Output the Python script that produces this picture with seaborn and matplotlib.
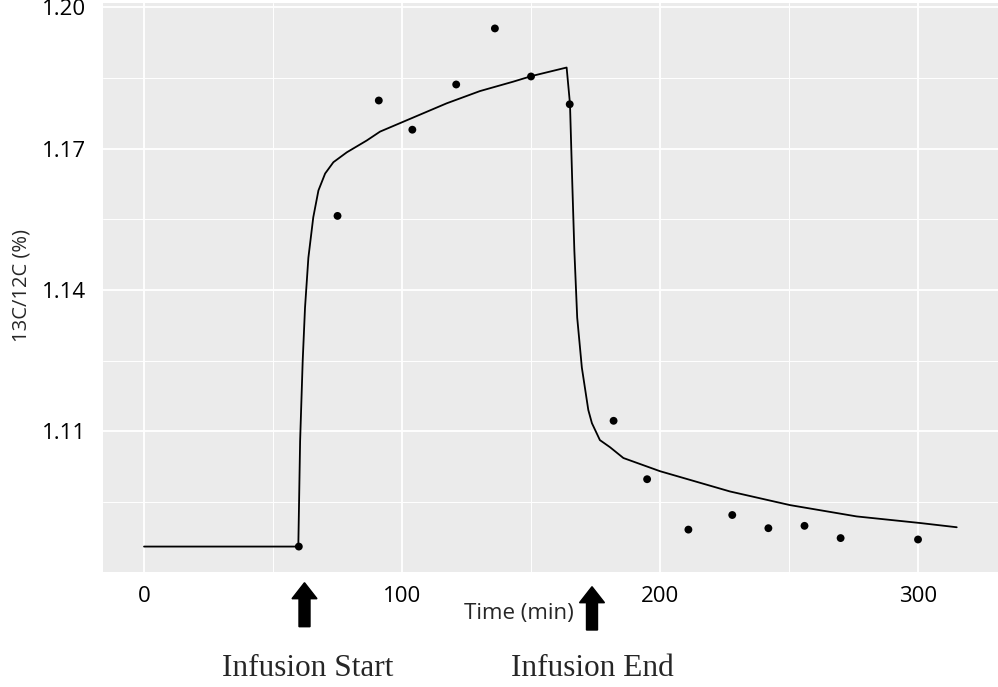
import seaborn as sns
import matplotlib.pyplot as plt
from matplotlib.patches import FancyArrow
from matplotlib.ticker import MultipleLocator

# measured samples
time_obs = [60, 75, 91, 104, 121, 136, 150, 165, 182, 195, 211, 228, 242, 256, 270, 300]
ratio_obs = [1.0855, 1.1557, 1.1802, 1.1740, 1.1836, 1.1955, 1.1853, 1.1794,
             1.1122, 1.0998, 1.0891, 1.0922, 1.0894, 1.0899, 1.0873, 1.0870]

# model curve
time_fit = [0, 59.8, 60.5, 61.5, 62.4, 63.7, 65.6, 67.6, 70.2, 73.4, 78.6, 86.3,
            91.5, 104.4, 117.3, 130.2, 143.1, 150.3, 163.8, 165.1, 166.0, 166.8,
            167.9, 169.7, 172.2, 173.6, 176.7, 180.6, 185.8, 200.0, 227.1, 250.4,
            276.2, 300.8, 315.0]
ratio_fit = [1.0855, 1.0855, 1.1079, 1.1249, 1.1362, 1.1468, 1.1554, 1.1611, 1.1647,
             1.1671, 1.1692, 1.1717, 1.1736, 1.1766, 1.1796, 1.1822, 1.1842, 1.1854,
             1.1872, 1.1795, 1.1625, 1.1483, 1.1341, 1.1235, 1.1145, 1.1117, 1.1081,
             1.1066, 1.1043, 1.1015, 1.0972, 1.0943, 1.0919, 1.0905, 1.0896]

x_ticks = [0, 100, 200, 300]
y_ticks = [1.11, 1.14, 1.17, 1.20]
y_tick_labels = ["1.11", "1.14", "1.17", "1.20"]

sns.set_theme(style="darkgrid", rc={"axes.facecolor": "#EBEBEB",
                                    "grid.color": "white"})
plt.rcParams["font.family"] = ["Open Sans", "DejaVu Sans"]

fig = plt.figure(figsize=(9.98, 6.87), dpi=100)
ax = fig.add_axes([103 / 998, 115 / 687, 895 / 998, 569 / 687])

sns.lineplot(x=time_fit, y=ratio_fit, ax=ax, color="black", linewidth=1.3,
             sort=False, estimator=None)
sns.scatterplot(x=time_obs, y=ratio_obs, ax=ax, color="black", s=32,
                edgecolor="none")

ax.set_xlim(-15.9, 331)
ax.set_ylim(1.0801, 1.2009)
ax.set_xticks(x_ticks)
ax.set_yticks(y_ticks)
ax.set_yticklabels(y_tick_labels)
ax.xaxis.set_minor_locator(MultipleLocator(50))
ax.yaxis.set_minor_locator(MultipleLocator(0.015))
ax.grid(which="major", color="white", linewidth=1.3)
ax.grid(which="minor", color="white", linewidth=0.7)
ax.tick_params(axis="both", which="both", length=0, labelsize=16, colors="black")
ax.tick_params(axis="x", pad=10)
ax.tick_params(axis="y", pad=12)
for s in ax.spines.values():
    s.set_visible(False)
ax.set_xlabel("")
ax.set_ylabel("")

fig.text(22 / 998, 1 - 286 / 687, "13C/12C (%)", rotation=90, ha="center",
         va="center", fontsize=14.5)
fig.text(519 / 998, 1 - 613 / 687, "Time (min)", ha="center", va="center",
         fontsize=16)

# arrows marking the infusion window
for xc, y0, y1 in [(3.045, 0.603, 1.043), (5.92, 0.57, 1.003)]:
    fig.patches.append(FancyArrow(xc, y0, 0, y1 - y0, width=0.11,
                                  head_width=0.25, head_length=0.16,
                                  length_includes_head=True, color="black",
                                  transform=fig.dpi_scale_trans))

fig.text(307.5 / 998, 1 - 668 / 687, "Infusion Start", ha="center", va="center",
         fontsize=22.5, family=["Liberation Serif", "DejaVu Serif"])
fig.text(592.5 / 998, 1 - 668 / 687, "Infusion End", ha="center", va="center",
         fontsize=22.5, family=["Liberation Serif", "DejaVu Serif"])

fig.savefig("out.png", dpi=100)
